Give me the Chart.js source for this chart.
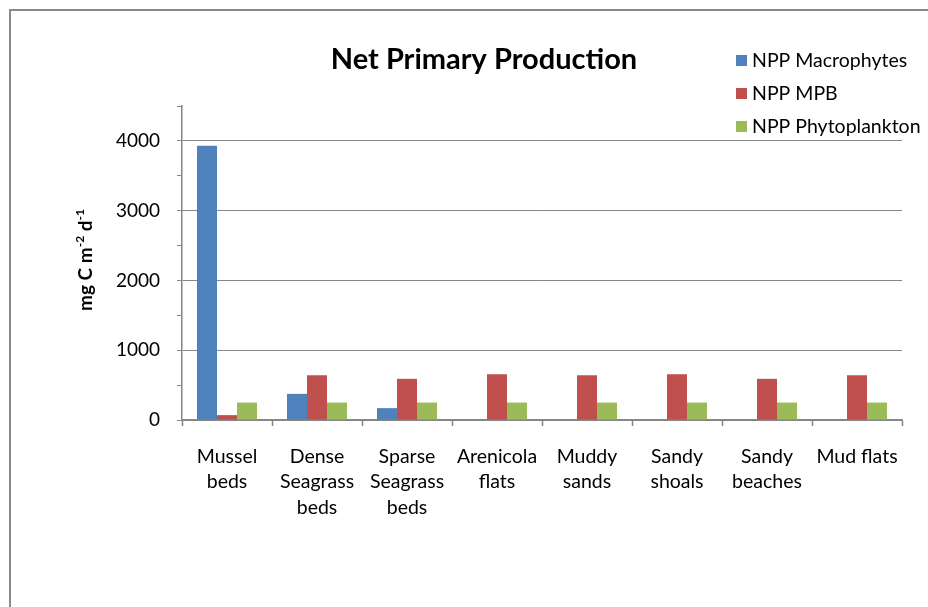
<!DOCTYPE html>
<html>
<head>
<meta charset="utf-8">
<script src="https://cdn.jsdelivr.net/npm/chart.js@4/dist/chart.umd.min.js"></script>
<style>
  html, body { margin: 0; padding: 0; background: #fff; }
  #wrap { position: relative; width: 928px; height: 607px; overflow: hidden; }
  #frame { position: absolute; left: 9px; top: 9px; width: 1000px; height: 700px;
           border-left: 2px solid #8a8a8a; border-top: 2px solid #8a8a8a; }
  canvas { position: absolute; left: 0; top: 0; }
</style>
</head>
<body>
<div id="wrap">
  <div id="frame"></div>
  <canvas id="graph" width="928" height="607"></canvas>
</div>
<script>
const habitats = [["Mussel", "beds"], ["Dense", "Seagrass", "beds"], ["Sparse", "Seagrass", "beds"],
                  ["Arenicola", "flats"], ["Muddy", "sands"], ["Sandy", "shoals"], ["Sandy", "beaches"], ["Mud flats"]];
const macrophytes = [3930, 375, 170, 0, 0, 0, 0, 0];
const mpb = [70, 640, 590, 655, 640, 655, 590, 640];
const phytoplankton = [250, 250, 250, 250, 250, 250, 250, 250];
const seriesNames = ["NPP Macrophytes", "NPP MPB", "NPP Phytoplankton"];
const yMax = 4500;

const FONT = "Lato, 'Open Sans', sans-serif";

// title, legend and axis title drawn on top
const overlay = {
    id: 'overlay',
    afterDraw(chart) {
        const c = chart.ctx;
        c.save();
        c.fillStyle = '#000';
        c.textBaseline = 'middle';

        c.font = "bold 29px " + FONT;
        c.textAlign = 'center';
        c.fillText("Net Primary Production", 484, 60);

        c.font = "19.5px " + FONT;
        c.textAlign = 'left';
        chart.data.datasets.forEach((ds, i) => {
            const y = 60 + i * 33;
            c.fillStyle = ds.backgroundColor;
            c.fillRect(736, y - 5, 11, 11);
            c.fillStyle = '#000';
            c.fillText(ds.label, 752, y + 1);
        });

        // y axis title with superscripts
        c.translate(86, 260);
        c.rotate(-Math.PI / 2);
        const parts = [["mg C m", false], ["-2", true], [" d", false], ["-1", true]];
        const big = "bold 19px " + FONT, small = "bold 12px " + FONT;
        let w = 0;
        parts.forEach(p => { c.font = p[1] ? small : big; w += c.measureText(p[0]).width; });
        let x = -w / 2;
        c.textAlign = 'left';
        parts.forEach(p => {
            c.font = p[1] ? small : big;
            c.fillText(p[0], x, p[1] ? -6 : 0);
            x += c.measureText(p[0]).width;
        });
        c.restore();
    }
};

graph = new Chart(document.getElementById('graph').getContext('2d'), {
    type: 'bar',
    data: {
        labels: habitats,
        datasets: [
            { label: seriesNames[0], data: macrophytes, backgroundColor: '#4F81BD' },
            { label: seriesNames[1], data: mpb, backgroundColor: '#C0504D' },
            { label: seriesNames[2], data: phytoplankton, backgroundColor: '#9BBB59' }
        ]
    },
    options: {
        responsive: false,
        animation: false,
        layout: { padding: { top: 106, right: 26, left: 0, bottom: 0 } },
        datasets: { bar: { categoryPercentage: 0.667, barPercentage: 1.0 } },
        scales: {
            x: {
                offset: true,
                grid: { offset: true, drawOnChartArea: false, drawTicks: true, tickLength: 6, tickColor: '#868686', tickWidth: 1.5 },
                border: { color: '#868686', width: 1.5 },
                ticks: { color: '#000', font: { family: FONT, size: 19.5, lineHeight: 1.3 }, padding: 18, maxRotation: 0, autoSkip: false },
                afterFit(scale) { scale.height = 607 - 420; }
            },
            y: {
                min: 0,
                max: yMax,
                ticks: {
                    stepSize: 500,
                    color: '#000',
                    font: { family: FONT, size: 19 },
                    padding: 17,
                    callback: v => (v % 1000 === 0 ? v : '')
                },
                grid: {
                    color: ctx => (ctx.tick && ctx.tick.value % 1000 === 0 ? '#868686' : 'rgba(0,0,0,0)'),
                    tickColor: '#868686',
                    tickLength: 5,
                    lineWidth: 1
                },
                border: { color: '#868686', width: 1.5 },
                afterFit(scale) { scale.width = 182; }
            }
        },
        plugins: {
            legend: { display: false },
            title: { display: false },
            tooltip: { enabled: false }
        }
    },
    plugins: [overlay]
});
</script>
</body>
</html>
